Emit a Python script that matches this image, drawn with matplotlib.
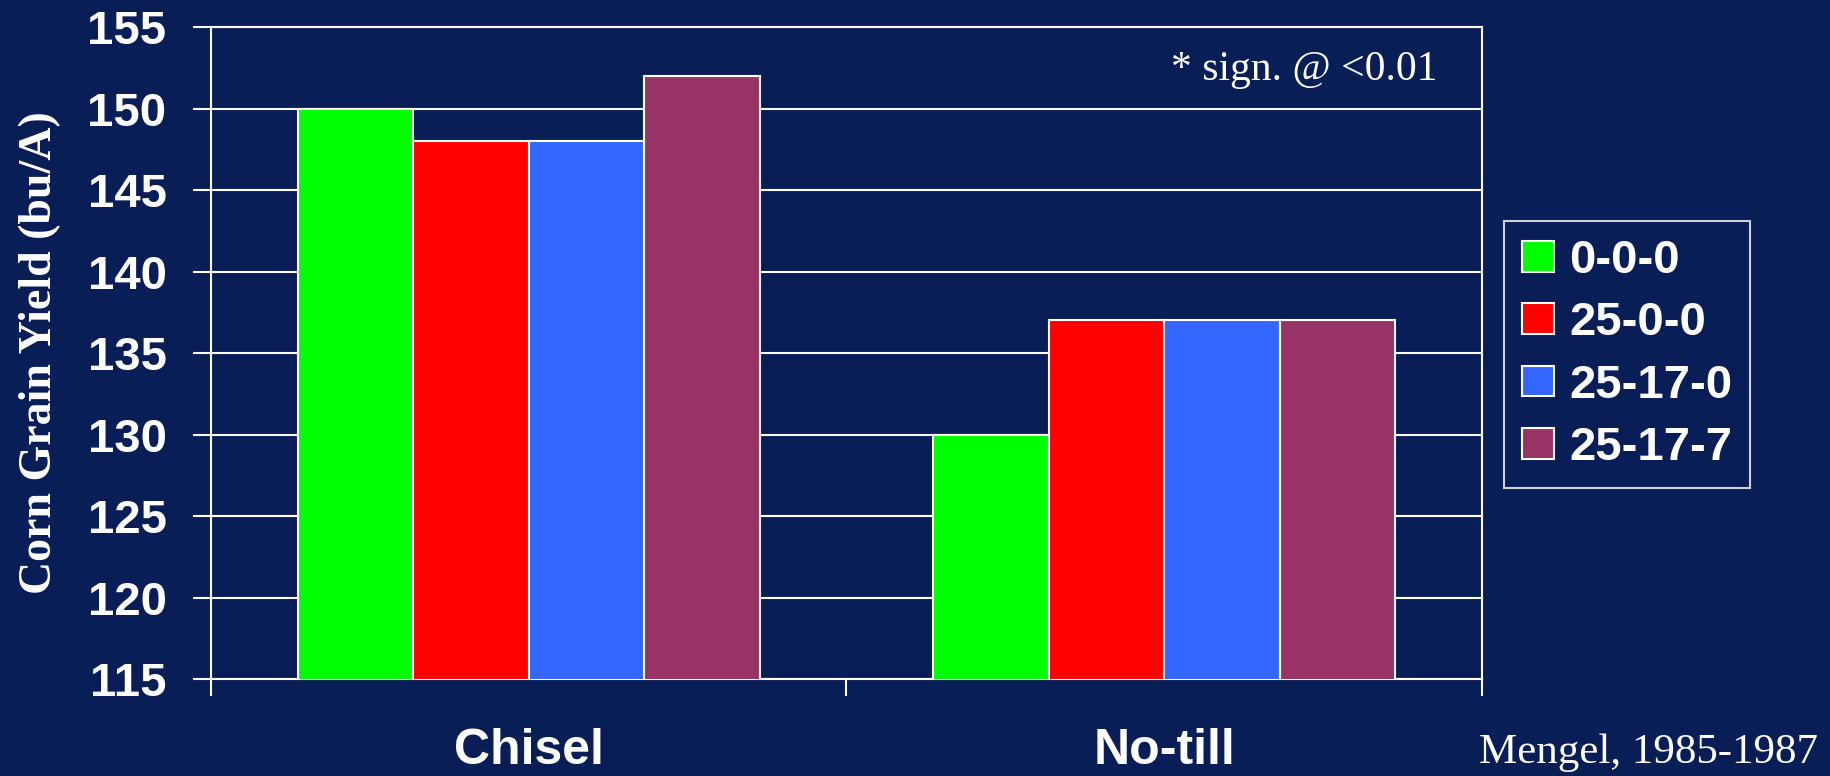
import numpy as np
import matplotlib
matplotlib.use('Agg')
import matplotlib.pyplot as plt

# corn yield by tillage and fertilizer
tillage = ['Chisel', 'No-till']
treatments = ['0-0-0', '25-0-0', '25-17-0', '25-17-7']
yields = {
	'0-0-0': [150, 130],
	'25-0-0': [148, 137],
	'25-17-0': [148, 137],
	'25-17-7': [152, 137],
}
yticks = [115, 120, 125, 130, 135, 140, 145, 150, 155]

bg = '#091D57'
colors = ['#00FF00', '#FF0000', '#3366FF', '#993366']
serif = ['Liberation Serif', 'DejaVu Serif']

plt.rcParams['font.family'] = ['Liberation Sans', 'DejaVu Sans']

fig = plt.figure(figsize=(18.3, 7.76), dpi=100, facecolor=bg)
ax = fig.add_axes([0.1153, 0.125, 0.6945, 0.84])
ax.set_facecolor(bg)

x = np.arange(len(tillage))
w = 0.1817
for ii, t in enumerate(treatments):
	ax.bar(x + (ii - 1.5) * w, yields[t], w, color=colors[ii], edgecolor='white',
		linewidth=1.5, label=t, zorder=3)

ax.set_xlim(-0.5, 1.5)
ax.set_ylim(115, 155)
ax.set_yticks(yticks)
ax.set_yticklabels([str(v) for v in yticks], fontsize=34, fontweight='bold', color='white')
ax.yaxis.grid(True, color='white', linewidth=1.5, zorder=0)
ax.tick_params(axis='y', length=13, width=1.5, color='white', pad=19)

# category boundaries as ticks, labels at centers
ax.set_xticks([-0.5, 0.5, 1.5])
ax.set_xticklabels([])
ax.set_xticks(x, minor=True)
ax.set_xticklabels(tillage, minor=True, fontsize=36, fontweight='bold', color='white')
ax.tick_params(axis='x', which='major', length=12, width=1.5, color='white')
ax.tick_params(axis='x', which='minor', length=0, pad=35)

for s in ax.spines.values():
	s.set_color('white')
	s.set_linewidth(1.5)

ax.set_ylabel('Corn Grain Yield (bu/A)', fontsize=33, fontweight='bold', color='white',
	family=serif)
ax.yaxis.set_label_coords(-0.118, 0.5)

ax.text(0.965, 0.934, '* sign. @ <0.01', transform=ax.transAxes, ha='right', va='center',
	fontsize=30, color='white', family=serif)

fig.text(0.9934, 0.03, 'Mengel, 1985-1987', ha='right', va='center', fontsize=31,
	color='white', family=serif)

leg = fig.legend(loc='upper left', bbox_to_anchor=(0.8219, 0.7152), frameon=True, fancybox=False,
	prop={'size': 34, 'weight': 'bold'}, handlelength=0.68, handleheight=0.62,
	handletextpad=0.32, labelspacing=0.39, borderpad=0.38, borderaxespad=0)
leg.get_frame().set_facecolor(bg)
leg.get_frame().set_edgecolor('white')
leg.get_frame().set_linewidth(1.5)
for txt in leg.get_texts():
	txt.set_color('white')

fig.savefig('out.png', dpi=100, facecolor=bg)
